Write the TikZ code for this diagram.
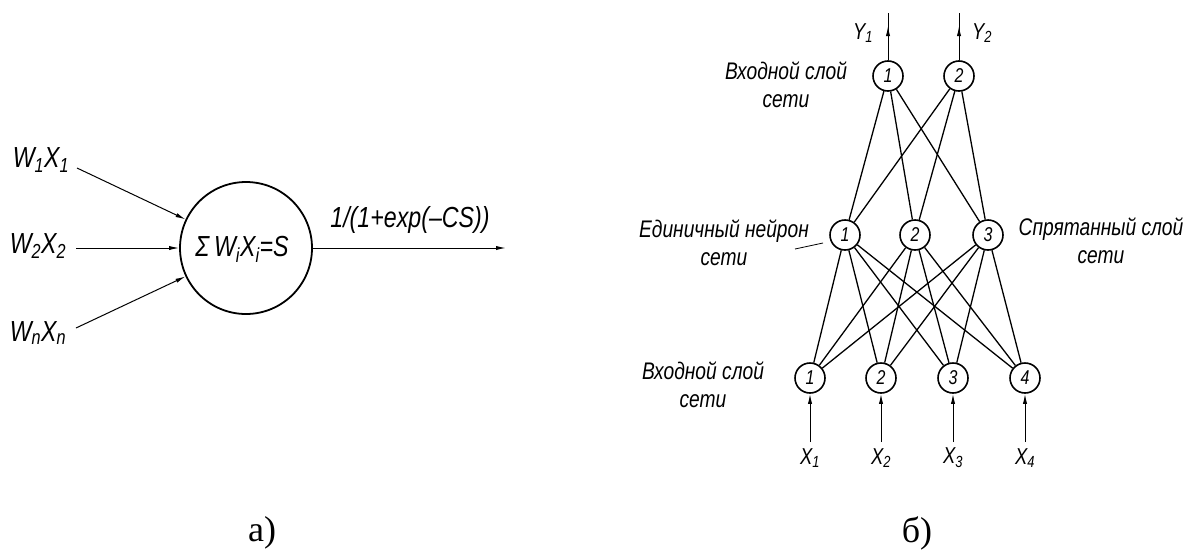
\documentclass[tikz,border=0pt]{standalone}
\usepackage{fontspec}
\usetikzlibrary{arrows.meta}
\newfontfamily\gost[FakeStretch=0.8]{Liberation Sans}
\newfontfamily\capfont{Liberation Serif}
\begin{document}
\begin{tikzpicture}[x=1pt,y=-1pt,
  neuron/.style={circle,draw,line width=1.6pt,minimum size=30pt,inner sep=0pt,font=\gost\itshape\fontsize{20}{20}\selectfont},
  conn/.style={line width=1.3pt},
  arr/.style={line width=1pt,-{Latex[length=10pt,width=4.2pt]}},
  lbl/.style={font=\gost\itshape\fontsize{24}{28}\selectfont,align=center,inner sep=0pt},
  sml/.style={font=\gost\itshape\fontsize{23}{23}\selectfont,inner sep=0pt},
  wlbl/.style={font=\gost\itshape\fontsize{29}{29}\selectfont,inner sep=0pt},
  captxt/.style={font=\capfont\fontsize{36}{36}\selectfont,inner sep=0pt}]
\useasboundingbox (0,0) rectangle (1185,549);

% ---------- a) ----------
\node[circle,draw,line width=1.8pt,minimum size=132pt,inner sep=0pt] (sum) at (246,248) {};
\node[font=\gost\itshape\fontsize{29}{29}\selectfont,inner sep=0pt] (sumtxt) at (242,249)
  {Σ\,W\textsubscript{i}X\textsubscript{i}=S};
\node[wlbl] (w1) at (41,160) {W\textsubscript{1}X\textsubscript{1}};
\node[wlbl] (w2) at (38,246) {W\textsubscript{2}X\textsubscript{2}};
\node[wlbl] (wn) at (38,333) {W\textsubscript{n}X\textsubscript{n}};
\coordinate (s1) at (77,168);
\coordinate (s2) at (76,248);
\coordinate (s3) at (76,328);
\coordinate (out) at (506,248);
\draw[arr] (s1) -- (sum);
\draw[arr] (s2) -- (sum);
\draw[arr] (s3) -- (sum);
\draw[arr] (sum) -- (out);
\node[font=\gost\itshape\fontsize{29}{29}\selectfont,inner sep=0pt] (fn) at (410,220) {1/(1+exp(–CS))};
\node[captxt] (capa) at (262,533) {а)};

% ---------- b) ----------
\node[neuron] (t1) at (888,76) {1};
\node[neuron] (t2) at (959,76) {2};
\node[neuron] (m1) at (845,235) {1};
\node[neuron] (m2) at (915,235) {2};
\node[neuron] (m3) at (988,235) {3};
\node[neuron] (b1) at (810,378) {1};
\node[neuron] (b2) at (881,378) {2};
\node[neuron] (b3) at (953,378) {3};
\node[neuron] (b4) at (1025,378) {4};

\foreach \t in {t1,t2}
  \foreach \m in {m1,m2,m3}
    \draw[conn] (\t) -- (\m);
\foreach \m in {m1,m2,m3}
  \foreach \b in {b1,b2,b3,b4}
    \draw[conn] (\m) -- (\b);

\coordinate (y1) at (888,13);
\coordinate (y2) at (959,13);
\coordinate (y1a) at (888,26);
\coordinate (y2a) at (959,26);
\draw[line width=1pt] (t1) -- (y1);
\draw[line width=1pt] (t2) -- (y2);
\draw[arr] (t1) -- (y1a);
\draw[arr] (t2) -- (y2a);
\node[sml] (ly1) at (863,33) {Y\textsubscript{1}};
\node[sml] (ly2) at (982,33) {Y\textsubscript{2}};

\foreach \i/\x in {1/810,2/881,3/953,4/1025}{
  \coordinate (xs\i) at (\x,442);
  \draw[arr] (xs\i) -- (b\i);
  \node[sml] (lx\i) at (\x,458) {X\textsubscript{\i}};
}

\node[lbl] (ltop) at (786,85) {Входной слой\\сети};
\node[lbl] (lmid) at (724,243) {Единичный нейрон\\сети};
\node[lbl] (lhid) at (1101,241) {Спрятанный слой\\сети};
\node[lbl] (lbot) at (703,385) {Входной слой\\сети};
\coordinate (lead1) at (795,249);
\coordinate (lead2) at (823,243);
\draw[line width=0.8pt] (lead1) -- (lead2);

\node[captxt] (capb) at (917,533) {б)};
\end{tikzpicture}
\end{document}
